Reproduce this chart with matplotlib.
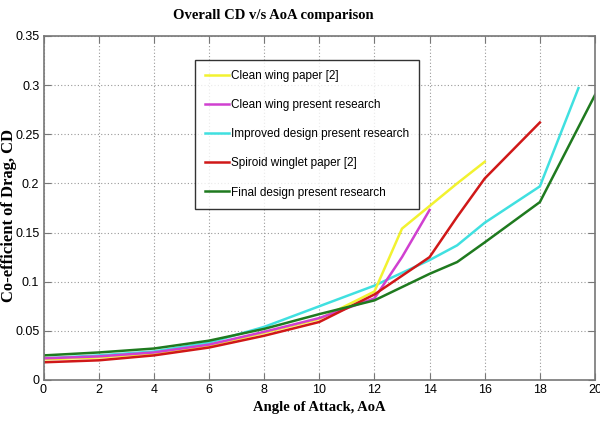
import matplotlib
matplotlib.use("Agg")
import matplotlib.pyplot as plt

aoa_yellow = [0, 2, 4, 6, 8, 10, 12, 13, 14, 15, 16]
cd_yellow = [0.021, 0.023, 0.027, 0.035, 0.048, 0.062, 0.09, 0.154, 0.177, 0.2, 0.222]

aoa_magenta = [0, 2, 4, 6, 8, 10, 12, 13, 14]
cd_magenta = [0.022, 0.024, 0.028, 0.036, 0.049, 0.063, 0.083, 0.125, 0.173]

aoa_cyan = [0, 2, 4, 6, 8, 10, 12, 14, 15, 16, 18, 19.4]
cd_cyan = [0.022, 0.025, 0.029, 0.038, 0.054, 0.075, 0.096, 0.122, 0.137, 0.16, 0.197, 0.297]

aoa_red = [0, 2, 4, 6, 8, 10, 12, 14, 15, 16, 18]
cd_red = [0.018, 0.02, 0.025, 0.033, 0.045, 0.059, 0.087, 0.125, 0.166, 0.205, 0.262]

aoa_green = [0, 2, 4, 6, 8, 10, 12, 14, 15, 16, 18, 20]
cd_green = [0.025, 0.028, 0.032, 0.04, 0.052, 0.067, 0.081, 0.108, 0.12, 0.14, 0.181, 0.29]

labels = ["Clean wing paper [2]", "Clean wing present research",
          "Improved design present research", "Spiroid winglet paper [2]",
          "Final design present research"]
colors = ["#f2f230", "#d040d0", "#40e0e0", "#d01818", "#1f7a1f"]

xticks = list(range(0, 21, 2))
yticks = [0, 0.05, 0.1, 0.15, 0.2, 0.25, 0.3, 0.35]
ytick_labels = ["0", "0.05", "0.1", "0.15", "0.2", "0.25", "0.3", "0.35"]

sans = ["Liberation Sans", "DejaVu Sans"]
serif = ["Liberation Serif", "DejaVu Serif"]

fig = plt.figure(figsize=(6, 4.32), dpi=100)
ax = fig.add_axes([0.0725, 0.1204, 0.9192, 0.7963])

series = [(aoa_yellow, cd_yellow), (aoa_magenta, cd_magenta), (aoa_cyan, cd_cyan),
          (aoa_red, cd_red), (aoa_green, cd_green)]
order = [2, 0, 1, 3, 4]
lines = {}
for i in order:
    x, y = series[i]
    ln, = ax.plot(x, y, color=colors[i], lw=1.8, label=labels[i])
    lines[i] = ln

ax.set_xlim(0, 20)
ax.set_ylim(0, 0.35)
ax.set_xticks(xticks)
ax.set_yticks(yticks)
ax.set_yticklabels(ytick_labels)
for lab in ax.get_xticklabels() + ax.get_yticklabels():
    lab.set_family(sans)
    lab.set_fontsize(9)
ax.tick_params(direction="in", length=5, color="#777777", top=True, right=True, pad=3)
ax.grid(True, linestyle=(0, (1, 2)), color="#999999", lw=0.8)
for s in ax.spines.values():
    s.set_color("#777777")
    s.set_linewidth(1.2)

fig.text(273 / 600, 1 - 16 / 432, "Overall CD v/s AoA comparison", family=serif,
         fontsize=10.5, fontweight="bold", ha="center", va="center")
fig.text(319 / 600, 1 - 407 / 432, "Angle of Attack, AoA", family=serif,
         fontsize=10.5, fontweight="bold", ha="center", va="center")
fig.text(9 / 600, 1 - 215 / 432, "Co-efficient of Drag, CD", family=serif,
         fontsize=12, fontweight="bold", ha="center", va="center", rotation=90)

leg_prop = {"family": sans, "size": 8.5}
leg = ax.legend([lines[i] for i in range(5)], labels, loc="upper left",
                bbox_to_anchor=(0.2747, 0.93), borderaxespad=0, prop=leg_prop,
                frameon=True, fancybox=False, edgecolor="black", handlelength=2.0,
                handletextpad=0.2, labelspacing=1.45, borderpad=0.85)
leg.get_frame().set_linewidth(1.0)

fig.savefig("out.png", dpi=100)
